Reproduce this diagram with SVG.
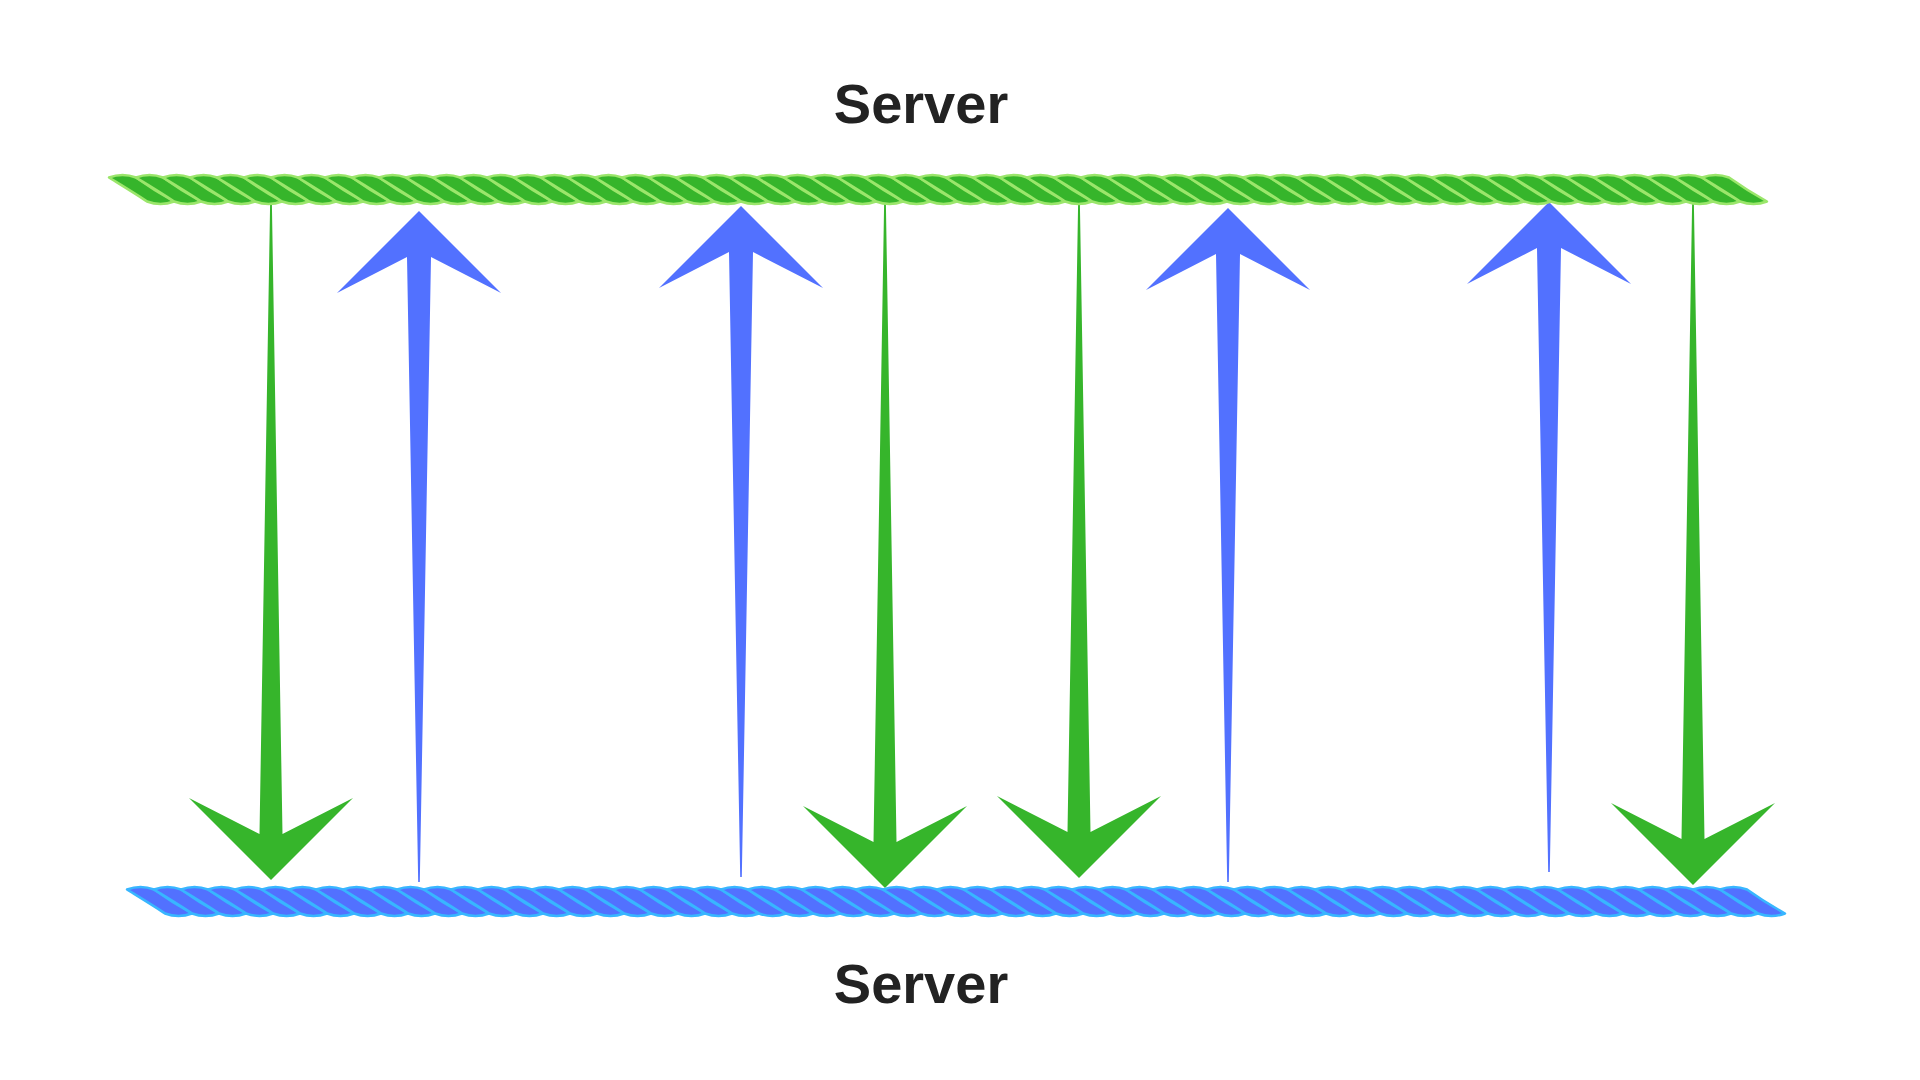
<svg xmlns="http://www.w3.org/2000/svg" xmlns:xlink="http://www.w3.org/1999/xlink" width="1920" height="1080" viewBox="0 0 1920 1080">
  <style>
    .label { font-family: "Liberation Sans", Arial, sans-serif; font-weight: 700; font-size: 56px; fill: #222222; text-anchor: middle; }
    .rope-green { fill: #36b52b; stroke: #9be66b; stroke-width: 2.5; stroke-linejoin: round; }
    .rope-blue { fill: #5271ff; stroke: #38b6ff; stroke-width: 2.5; stroke-linejoin: round; }
    .arrow-down { fill: #36b52b; }
    .arrow-up { fill: #5271ff; }
  </style>
  <defs>
    <!-- one twisted strand: bump on top, slanted body, bump on bottom -->
    <path id="strand" d="M0,2 Q13.5,-3 27,2 C34,7 56,21 65,26 Q51.5,31 38,26 C31,21 8,7 0,2 Z"/>
    <!-- a rope of 60 strands at 27px pitch -->
    <g id="rope">
      <use href="#strand" x="0"/><use href="#strand" x="27"/><use href="#strand" x="54"/><use href="#strand" x="81"/>
      <use href="#strand" x="108"/><use href="#strand" x="135"/><use href="#strand" x="162"/><use href="#strand" x="189"/>
      <use href="#strand" x="216"/><use href="#strand" x="243"/><use href="#strand" x="270"/><use href="#strand" x="297"/>
      <use href="#strand" x="324"/><use href="#strand" x="351"/><use href="#strand" x="378"/><use href="#strand" x="405"/>
      <use href="#strand" x="432"/><use href="#strand" x="459"/><use href="#strand" x="486"/><use href="#strand" x="513"/>
      <use href="#strand" x="540"/><use href="#strand" x="567"/><use href="#strand" x="594"/><use href="#strand" x="621"/>
      <use href="#strand" x="648"/><use href="#strand" x="675"/><use href="#strand" x="702"/><use href="#strand" x="729"/>
      <use href="#strand" x="756"/><use href="#strand" x="783"/><use href="#strand" x="810"/><use href="#strand" x="837"/>
      <use href="#strand" x="864"/><use href="#strand" x="891"/><use href="#strand" x="918"/><use href="#strand" x="945"/>
      <use href="#strand" x="972"/><use href="#strand" x="999"/><use href="#strand" x="1026"/><use href="#strand" x="1053"/>
      <use href="#strand" x="1080"/><use href="#strand" x="1107"/><use href="#strand" x="1134"/><use href="#strand" x="1161"/>
      <use href="#strand" x="1188"/><use href="#strand" x="1215"/><use href="#strand" x="1242"/><use href="#strand" x="1269"/>
      <use href="#strand" x="1296"/><use href="#strand" x="1323"/><use href="#strand" x="1350"/><use href="#strand" x="1377"/>
      <use href="#strand" x="1404"/><use href="#strand" x="1431"/><use href="#strand" x="1458"/><use href="#strand" x="1485"/>
      <use href="#strand" x="1512"/><use href="#strand" x="1539"/><use href="#strand" x="1566"/><use href="#strand" x="1593"/>
    </g>
  </defs>

  <rect width="1920" height="1080" fill="#ffffff"/>

  <!-- request / response arrows between the two servers -->
  <g id="connectors">
    <!-- green: top to bottom -->
    <polygon class="arrow-down" points="270.2,198 271.8,198 282.5,834 353,798 271,880 189,798 259.5,834"/>
    <polygon class="arrow-down" points="884.2,198 885.8,198 896.5,842 967,806 885,888 803,806 873.5,842"/>
    <polygon class="arrow-down" points="1078.2,198 1079.8,198 1090.5,832 1161,796 1079,878 997,796 1067.5,832"/>
    <polygon class="arrow-down" points="1692.2,198 1693.8,198 1704.5,839 1775,803 1693,885 1611,803 1681.5,839"/>
    <!-- blue: bottom to top -->
    <polygon class="arrow-up" points="418.2,882 419.8,882 431,257 501,293 419,211 337,293 407,257"/>
    <polygon class="arrow-up" points="740.2,877 741.8,877 753,252 823,288 741,206 659,288 729,252"/>
    <polygon class="arrow-up" points="1227.2,882 1228.8,882 1240,254 1310,290 1228,208 1146,290 1216,254"/>
    <polygon class="arrow-up" points="1548.2,872 1549.8,872 1561,248 1631,284 1549,202 1467,284 1537,248"/>
  </g>

  <g id="server-top">
    <use href="#rope" class="rope-green" transform="translate(109,175.5)"/>
    <text class="label" x="921" y="123">Server</text>
  </g>

  <g id="server-bottom">
    <use href="#rope" class="rope-blue" transform="translate(127,887.5)"/>
    <text class="label" x="921" y="1003">Server</text>
  </g>
</svg>
